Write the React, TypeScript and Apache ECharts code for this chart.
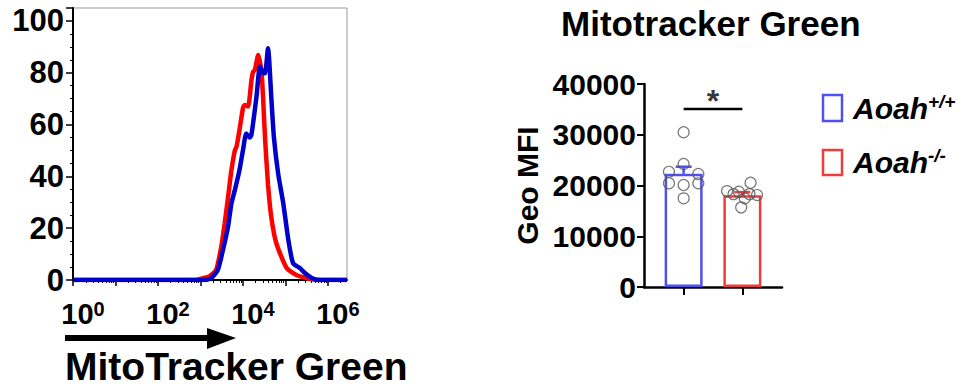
import React, { useEffect, useRef } from 'react';
import * as echarts from 'echarts';

const FONT = "'Liberation Sans', Arial, Helvetica, sans-serif";

// ---- Histogram (left): x = log10(MitoTracker Green intensity), y = % of max
const histMajorTicks = [0, 1, 2, 3, 4, 5, 6];
const histLabelTicks = [0, 2, 4, 6];
const histMinorMultipliers = [2, 3, 4, 5, 6, 7, 8, 9];
const histYMax = 105;

const redLogX = [0, 2.86, 3.06, 3.22, 3.37, 3.49, 3.57, 3.65, 3.73, 3.81, 3.85, 3.92, 4.0, 4.04, 4.12, 4.2, 4.24, 4.28, 4.36, 4.44, 4.52, 4.59, 4.67, 4.79, 5.03, 5.26, 5.58, 5.82, 6.45];
const redPct = [0, 0, 0.7, 1.5, 3.9, 12.9, 21.9, 32, 42.5, 50, 51.5, 58, 66.3, 67.6, 67, 77, 80.4, 81, 86.9, 80, 55, 37, 24, 14, 4.6, 1.9, 0.4, 0, 0];

const blueLogX = [0, 3.1, 3.26, 3.41, 3.53, 3.65, 3.73, 3.81, 3.92, 4.0, 4.08, 4.16, 4.2, 4.32, 4.4, 4.47, 4.52, 4.59, 4.67, 4.73, 4.83, 4.95, 5.07, 5.18, 5.34, 5.46, 5.62, 5.82, 6.45];
const bluePct = [0, 0, 0.8, 3.9, 11.6, 20.6, 29.6, 34.7, 42.5, 50, 56.6, 55, 56, 70.8, 82.4, 80, 79.8, 89.5, 70, 55, 41, 29.6, 15.4, 6.5, 4.6, 2.7, 0.8, 0, 0];

// ---- Bar chart (right): Geo MFI
const groupNames = ['Aoah+/+', 'Aoah-/-'];
const groupPos = [1, 2];
const barMeans = [22300, 18100];
const barErrTop = [23700, 18700];
const wtPointsX = [1.0, 1.0, 0.75, 1.25, 0.75, 1.0, 1.25, 1.0];
const wtPointsY = [30500, 24250, 22700, 22270, 20430, 20100, 20430, 17470];
const koPointsX = [2.14, 1.74, 1.94, 1.85, 2.12, 2.25, 2.04, 1.98];
const koPointsY = [20550, 18900, 18780, 18300, 18300, 18120, 17470, 15690];
const sigLineY = 35050;
const sigStarY = 36700;

const RED = '#ff0000';
const BLUE = '#0000cc';
const BAR_BLUE = '#5050f0';
const BAR_RED = '#f03c3c';

export default function App() {
  const ref = useRef<HTMLDivElement>(null);

  useEffect(() => {
    if (!ref.current) return;
    const chart = echarts.init(ref.current, null, { renderer: 'svg' });

    const minorTicks: number[] = [];
    for (let d = 0; d < 7; d++) {
      for (const m of histMinorMultipliers) {
        const v = d + Math.log10(m);
        if (v < 6.45) minorTicks.push(v);
      }
    }

    const barColors = [BAR_BLUE, BAR_RED];
    const legendRich = {
      a: { fontFamily: FONT, fontSize: 30, fontWeight: 'bold', fontStyle: 'italic', fill: '#000', lineHeight: 32 },
      s: { fontFamily: FONT, fontSize: 19, fontWeight: 'bold', fontStyle: 'italic', fill: '#000', verticalAlign: 'top', lineHeight: 19 },
    };

    const option: any = {
      animation: false,
      textStyle: { fontFamily: FONT },
      title: {
        text: 'Mitotracker Green',
        left: 561,
        top: 6,
        padding: 0,
        textStyle: { fontFamily: FONT, fontSize: 35, fontWeight: 'bold', color: '#000' },
      },
      grid: [
        { left: 73, top: 8, width: 274, height: 272, show: true, borderColor: '#9a9a9a', borderWidth: 1, backgroundColor: 'transparent' },
        { left: 644, top: 84, width: 138, height: 203 },
      ],
      xAxis: [
        {
          gridIndex: 0,
          type: 'value',
          position: 'bottom',
          min: 0,
          max: 6.45,
          axisLine: { show: true, onZero: false, lineStyle: { color: '#000', width: 2 } },
          axisTick: { show: true, customValues: histMajorTicks, length: 6, lineStyle: { color: '#000', width: 1.5 } },
          axisLabel: {
            customValues: histLabelTicks,
            margin: 19,
            padding: [0, 0, 0, 20],
            formatter: (v: number) => `{b|10}{s|${Math.round(v)}}`,
            rich: {
              b: { fontFamily: FONT, fontSize: 29, fontWeight: 'bold', color: '#000', lineHeight: 30 },
              s: { fontFamily: FONT, fontSize: 20, fontWeight: 'bold', color: '#000', verticalAlign: 'top', lineHeight: 20 },
            },
          },
          splitLine: { show: false },
        },
        {
          gridIndex: 0,
          type: 'value',
          position: 'bottom',
          min: 0,
          max: 6.45,
          axisLine: { show: false, onZero: false },
          axisTick: { show: true, customValues: minorTicks, length: 3, lineStyle: { color: '#000', width: 1 } },
          axisLabel: { show: false },
          splitLine: { show: false },
        },
        {
          gridIndex: 1,
          type: 'value',
          position: 'bottom',
          min: 0.325,
          max: 2.675,
          axisLine: { show: true, onZero: false, lineStyle: { color: '#000', width: 2.5 } },
          axisTick: { show: true, customValues: groupPos, length: 8, lineStyle: { color: '#000', width: 2 } },
          axisLabel: { show: false },
          splitLine: { show: false },
        },
      ],
      yAxis: [
        {
          gridIndex: 0,
          type: 'value',
          min: 0,
          max: histYMax,
          interval: 20,
          axisLine: { show: true, onZero: false, lineStyle: { color: '#000', width: 2 } },
          axisTick: { show: true, length: 7, lineStyle: { color: '#000', width: 1.5 } },
          minorTick: { show: true, splitNumber: 4, length: 3, lineStyle: { color: '#000', width: 1 } },
          axisLabel: {
            margin: 9,
            fontFamily: FONT,
            fontSize: 31,
            fontWeight: 'bold',
            color: '#000',
            showMaxLabel: false,
            formatter: (v: number) => (v % 20 === 0 ? String(v) : ''),
          },
          splitLine: { show: false },
          minorSplitLine: { show: false },
        },
        {
          gridIndex: 1,
          type: 'value',
          min: 0,
          max: 40000,
          interval: 10000,
          axisLine: { show: true, onZero: false, lineStyle: { color: '#000', width: 2.5 } },
          axisTick: { show: true, length: 7, lineStyle: { color: '#000', width: 2 } },
          axisLabel: {
            margin: 8,
            fontFamily: FONT,
            fontSize: 30,
            fontWeight: 'bold',
            color: '#000',
            formatter: (v: number) => String(v),
          },
          splitLine: { show: false },
          name: 'Geo MFI',
          nameLocation: 'middle',
          nameGap: 102,
          nameTextStyle: { fontFamily: FONT, fontSize: 30, fontWeight: 'bold', color: '#000' },
        },
      ],
      series: [
        {
          type: 'line',
          name: 'Aoah-/- histogram',
          xAxisIndex: 0,
          yAxisIndex: 0,
          data: redLogX.map((x, i) => [x, redPct[i]]),
          showSymbol: false,
          smooth: 0.2,
          lineStyle: { color: RED, width: 4.5 },
          z: 3,
        },
        {
          type: 'line',
          name: 'Aoah+/+ histogram',
          xAxisIndex: 0,
          yAxisIndex: 0,
          data: blueLogX.map((x, i) => [x, bluePct[i]]),
          showSymbol: false,
          smooth: 0.2,
          lineStyle: { color: BLUE, width: 4.5 },
          z: 4,
        },
        {
          type: 'bar',
          xAxisIndex: 2,
          yAxisIndex: 1,
          barWidth: 38,
          data: groupPos.map((p, i) => ({
            name: groupNames[i],
            value: [p, barMeans[i]],
            itemStyle: { color: 'rgba(0,0,0,0)', borderColor: barColors[i], borderWidth: 2.5 },
          })),
          z: 2,
        },
        {
          type: 'custom',
          xAxisIndex: 2,
          yAxisIndex: 1,
          data: groupPos.map((p, i) => [p, barMeans[i], barErrTop[i]]),
          renderItem: (params: any, api: any) => {
            const x = api.value(0);
            const p0 = api.coord([x, api.value(1)]);
            const p1 = api.coord([x, api.value(2)]);
            const c = barColors[params.dataIndex];
            const half = 8;
            return {
              type: 'group',
              children: [
                { type: 'line', shape: { x1: p0[0], y1: p0[1], x2: p1[0], y2: p1[1] }, style: { stroke: c, lineWidth: 2.5 } },
                { type: 'line', shape: { x1: p1[0] - half, y1: p1[1], x2: p1[0] + half, y2: p1[1] }, style: { stroke: c, lineWidth: 2.5 } },
              ],
            };
          },
          z: 3,
        },
        {
          type: 'scatter',
          xAxisIndex: 2,
          yAxisIndex: 1,
          data: wtPointsX.map((x, i) => [x, wtPointsY[i]]),
          symbol: 'circle',
          symbolSize: 11,
          itemStyle: { color: 'rgba(255,255,255,0)', borderColor: '#555', borderWidth: 1.2 },
          z: 5,
        },
        {
          type: 'scatter',
          xAxisIndex: 2,
          yAxisIndex: 1,
          data: koPointsX.map((x, i) => [x, koPointsY[i]]),
          symbol: 'circle',
          symbolSize: 11,
          itemStyle: { color: 'rgba(255,255,255,0)', borderColor: '#555', borderWidth: 1.2 },
          z: 5,
        },
        {
          type: 'line',
          xAxisIndex: 2,
          yAxisIndex: 1,
          data: [[groupPos[0], sigLineY], [groupPos[1], sigLineY]],
          showSymbol: false,
          lineStyle: { color: '#000', width: 2.5 },
          z: 5,
        },
        {
          type: 'scatter',
          xAxisIndex: 2,
          yAxisIndex: 1,
          data: [[(groupPos[0] + groupPos[1]) / 2, sigStarY]],
          symbolSize: 0,
          label: {
            show: true,
            position: 'inside',
            formatter: '*',
            fontFamily: FONT,
            fontSize: 32,
            fontWeight: 'bold',
            color: '#000',
          },
          z: 5,
        },
      ],
      graphic: [
        // Arrow under the histogram x axis
        { type: 'rect', shape: { x: 65, y: 335, width: 146, height: 6 }, style: { fill: '#000' } },
        { type: 'polygon', shape: { points: [[207, 328], [236, 338], [207, 349]] }, style: { fill: '#000' } },
        {
          type: 'text',
          left: 65,
          top: 347,
          style: { text: 'MitoTracker Green', fontFamily: FONT, fontSize: 39, fontWeight: 'bold', fill: '#000' },
        },
        // Legend
        { type: 'rect', shape: { x: 823, y: 95, width: 19, height: 26 }, style: { fill: 'none', stroke: BAR_BLUE, lineWidth: 2.5 } },
        {
          type: 'text',
          x: 853,
          y: 108,
          style: { text: '{a|Aoah}{s|+/+}', verticalAlign: 'middle', rich: legendRich },
        },
        { type: 'rect', shape: { x: 823, y: 150, width: 19, height: 25 }, style: { fill: 'none', stroke: BAR_RED, lineWidth: 2.5 } },
        {
          type: 'text',
          x: 853,
          y: 162,
          style: { text: '{a|Aoah}{s|-/-}', verticalAlign: 'middle', rich: legendRich },
        },
      ],
    };

    chart.setOption(option);
    return () => chart.dispose();
  }, []);

  return (
    <div
      ref={ref}
      style={{ position: 'fixed', left: 0, top: 0, width: 964, height: 392, background: '#fff' }}
    />
  );
}
